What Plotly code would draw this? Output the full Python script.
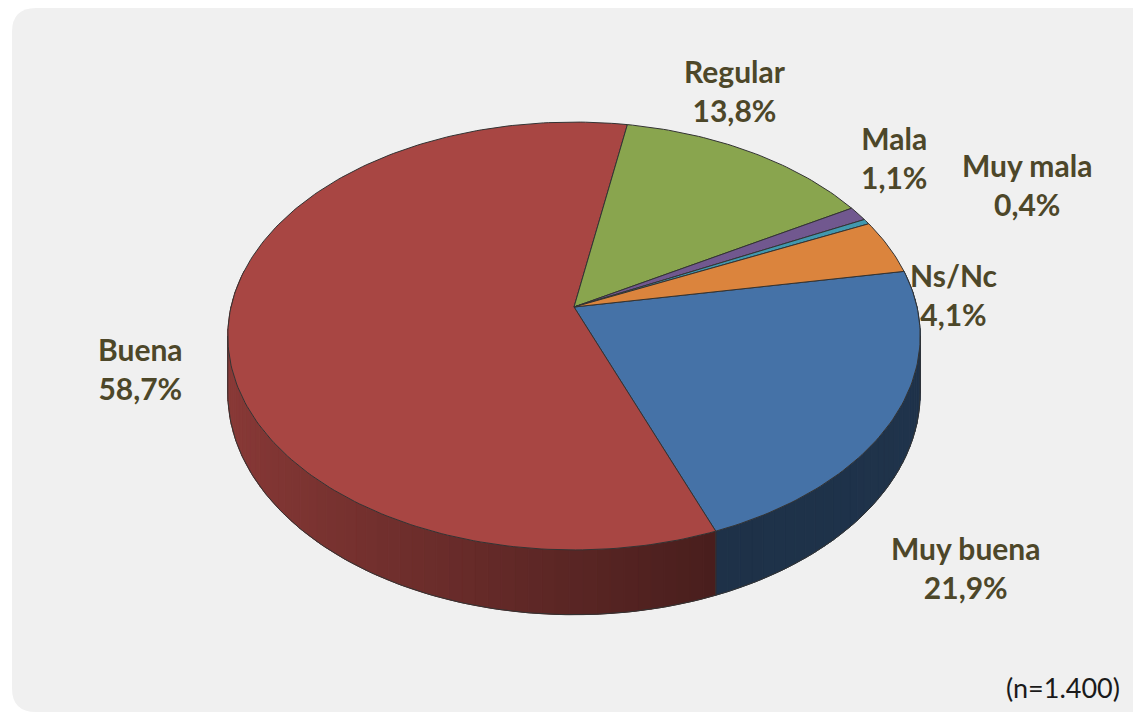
import numpy as np
import plotly.graph_objects as go

# ---------------- data ----------------
categories = ["Muy buena", "Buena", "Regular", "Mala", "Muy mala", "Ns/Nc"]
values = [21.9, 58.7, 13.8, 1.1, 0.4, 4.1]
sample_note = "(n=1.400)"

# ---------------- style ----------------
top_colors = ["#4572A7", "#A84643", "#89A54E", "#71588F", "#4198AF", "#DB843D"]
edge_color = "#333333"
label_color = "#4d4729"
panel_color = "#f0f0f0"

# label anchor positions (page pixels, centre of the two-line block)
label_pos = {
    "Regular": (735, 90),
    "Mala": (894, 157),
    "Muy mala": (1027, 184),
    "Ns/Nc": (953, 294),
    "Buena": (140, 368),
    "Muy buena": (965, 567),
}

# 3D pie geometry (page pixels)
CX, CY = 574, 307           # projected centre of the disc
A, B, K = 343, 210, 0.1355  # horizontal / vertical radius, perspective factor
DEPTH = 56                  # thickness of the disc
START = 10.0                # math angle (deg) where the first slice starts, going clockwise

PAGE_W, PAGE_H = 1141, 713
OFF = 8                     # browser body margin
W, H = PAGE_W - OFF, PAGE_H - OFF


def proj(theta_deg, drop=0.0):
    t = np.radians(theta_deg)
    u, v = np.cos(t), np.sin(t)
    w = 1 + K * v
    x = CX + A * u / w
    y = CY - B * v / w + drop * DEPTH / w
    return x, y


def shade(hex_color, f):
    h = hex_color.lstrip("#")
    r, g, b = (int(h[i:i + 2], 16) for i in (0, 2, 4))
    return "rgb(%d,%d,%d)" % (round(r * f), round(g * f), round(b * f))


fig = go.Figure()

total = float(sum(values))
fractions = [v / total for v in values]
bounds = START - 360.0 * np.concatenate([[0.0], np.cumsum(fractions)])

# ---------- side walls (near half only) ----------
NEAR_HI, NEAR_LO = 10.0, -190.0
for i, cat in enumerate(categories):
    t0, t1 = bounds[i], bounds[i + 1]  # t0 > t1
    hi, lo = min(t0, NEAR_HI), max(t1, NEAR_LO)
    if hi <= lo:
        continue
    n = max(1, int(np.ceil((hi - lo) / 2.0)))
    edges = np.linspace(hi, lo, n + 1)
    for a0, a1 in zip(edges[:-1], edges[1:]):
        xa, ya = proj(a0)
        xb, yb = proj(a1)
        xc, yc = proj(a1, 1)
        xd, yd = proj(a0, 1)
        umid = np.cos(np.radians((a0 + a1) / 2))
        f = float(np.interp(umid, [-1.0, 0.36, 1.0], [0.82, 0.43, 0.45]))
        col = shade(top_colors[i], f)
        fig.add_trace(go.Scatter(
            x=[xa, xb, xc, xd, xa], y=[ya, yb, yc, yd, ya],
            mode="lines", fill="toself", fillcolor=col,
            line=dict(color=col, width=1),
            hoverinfo="skip", showlegend=False))

# side outlines: bottom arc, silhouettes, slice edges on the visible wall
t_ext = np.degrees(np.arcsin(K))
arc = np.linspace(-t_ext, -180 + t_ext, 200)
bx, by = proj(arc, 1)
fig.add_trace(go.Scatter(x=bx, y=by, mode="lines",
                         line=dict(color=edge_color, width=1),
                         hoverinfo="skip", showlegend=False))
for t in [-t_ext, -180 + t_ext] + [b for b in bounds[1:-1] if -180 + t_ext < b < -t_ext]:
    x0, y0 = proj(t)
    x1, y1 = proj(t, 1)
    fig.add_trace(go.Scatter(x=[x0, x1], y=[y0, y1], mode="lines",
                             line=dict(color=edge_color, width=1),
                             hoverinfo="skip", showlegend=False))

# ---------- top faces ----------
for i, cat in enumerate(categories):
    t0, t1 = bounds[i], bounds[i + 1]
    n = max(4, int(np.ceil((t0 - t1) / 1.0)))
    ang = np.linspace(t0, t1, n + 1)
    ax, ay = proj(ang)
    xs = np.concatenate([[CX], ax, [CX]])
    ys = np.concatenate([[CY], ay, [CY]])
    fig.add_trace(go.Scatter(
        x=xs, y=ys, mode="lines", fill="toself", fillcolor=top_colors[i],
        line=dict(color=edge_color, width=1), name=cat,
        text=cat, hovertemplate="%{text}: " + f"{values[i]:.1f}%<extra></extra>",
        hoveron="fills", showlegend=False))

# ---------- labels ----------
for i, cat in enumerate(categories):
    pct = f"{values[i]:.1f}".replace(".", ",") + "%"
    x, y = label_pos[cat]
    fig.add_annotation(x=x, y=y, xref="x", yref="y", text=f"{cat}<br>{pct}",
                       showarrow=False, xanchor="center", yanchor="middle",
                       align="center",
                       font=dict(family="Lato", size=30, color=label_color, weight="bold"))

fig.add_annotation(x=1122, y=687, xref="x", yref="y", text=sample_note,
                   showarrow=False, xanchor="right", yanchor="middle",
                   font=dict(family="Lato", size=27, color="#1a1a1a"))

# ---------- background panel ----------
R = 24
panel = (f"M 12,{8 + R} Q 12,8 {12 + R},8 L 1160,8 L 1160,712 "
         f"L {12 + R},712 Q 12,712 12,{712 - R} Z")
fig.add_shape(type="path", path=panel, xref="x", yref="y",
              fillcolor=panel_color, line=dict(width=0), layer="below")

fig.update_layout(
    width=W, height=H, autosize=False,
    margin=dict(l=0, r=0, t=0, b=0),
    paper_bgcolor="white", plot_bgcolor="rgba(0,0,0,0)",
    xaxis=dict(range=[OFF, PAGE_W], visible=False, fixedrange=True),
    yaxis=dict(range=[PAGE_H, OFF], visible=False, fixedrange=True),
    showlegend=False,
)

fig.write_html("out.html", config={"displayModeBar": False})
